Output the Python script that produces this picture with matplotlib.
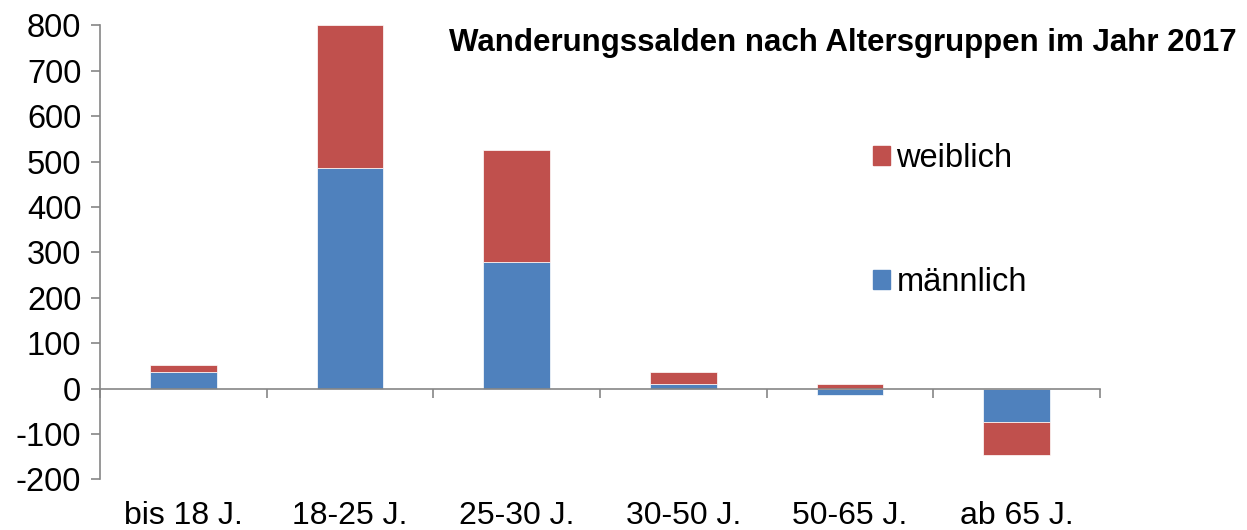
import numpy as np
import matplotlib
matplotlib.use("Agg")
import matplotlib.pyplot as plt
from matplotlib.patches import Patch
import matplotlib.transforms as mtransforms

# values
groups = ["bis 18 J.", "18-25 J.", "25-30 J.", "30-50 J.", "50-65 J.", "ab 65 J."]
maennlich = [37, 485, 279, 10, -15, -74]
weiblich = [16, 315, 247, 27, 11, -72]
yticks = [-200, -100, 0, 100, 200, 300, 400, 500, 600, 700, 800]

BLUE, RED, GREY = "#4F81BD", "#C0504D", "#868686"
plt.rcParams.update({"font.family": ["Liberation Sans", "DejaVu Sans"], "font.size": 23,
                     "axes.unicode_minus": False})

fig = plt.figure(figsize=(12.47, 5.30), dpi=100)
ax = fig.add_axes([0.0802, 0.0955, 0.882 - 0.0802, 0.952 - 0.0955])

x = np.arange(len(groups))
m = np.array(maennlich, float); w = np.array(weiblich, float)
# female stacks on top of male in the direction of its own sign
w_base = np.where(np.sign(w) == np.sign(m), m, 0.0)
ax.bar(x, m, width=0.4, color=BLUE, edgecolor="white", linewidth=0.5, zorder=2)
ax.bar(x, w, width=0.4, bottom=w_base, color=RED, edgecolor="white", linewidth=0.5, zorder=2)

ax.set_xlim(-0.5, len(groups) - 0.5)
ax.set_ylim(-200, 800)
ax.set_yticks(yticks)
ax.tick_params(axis="y", direction="out", length=6.5, width=1.2, color=GREY, pad=7, labelsize=23.5)

for s in ["top", "right"]:
    ax.spines[s].set_visible(False)
ax.spines["left"].set_color(GREY); ax.spines["left"].set_linewidth(1.2)
ax.spines["bottom"].set_position(("data", 0))
ax.spines["bottom"].set_color(GREY); ax.spines["bottom"].set_linewidth(1.2)
ax.set_xticks(np.arange(len(groups) + 1) - 0.5)
ax.set_xticklabels([])
ax.tick_params(axis="x", direction="out", length=6.5, width=1.2, color=GREY)

trans = mtransforms.blended_transform_factory(ax.transData, ax.transAxes)
for i, g in enumerate(groups):
    ax.text(i, -0.081, g, transform=trans, ha="center", va="center", fontsize=23)

fig.text(0.992, 0.918, "Wanderungssalden nach Altersgruppen im Jahr 2017",
         ha="right", va="center", fontsize=22.5, fontweight="bold")

handles = [Patch(color=RED, label="weiblich"), Patch(color=BLUE, label="männlich")]
fig.legend(handles=handles, loc="center left", bbox_to_anchor=(0.687, 0.584),
           frameon=False, borderpad=0, handlelength=0.52, handleheight=0.52,
           handletextpad=0.2, labelspacing=2.85, fontsize=23.5)

fig.savefig("out.png", dpi=100, facecolor="white")
